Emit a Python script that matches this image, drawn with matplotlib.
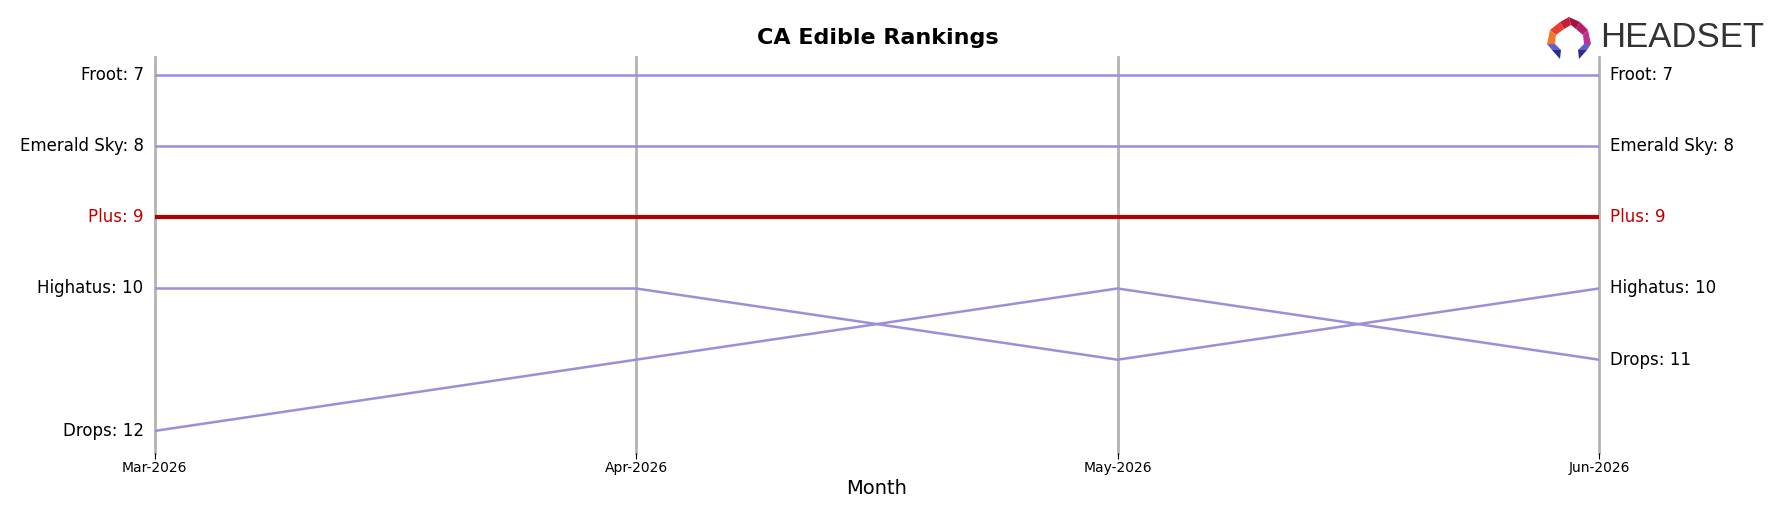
import matplotlib
matplotlib.use("Agg")
import matplotlib.pyplot as plt
from matplotlib.patches import Polygon

months = ["Mar-2026", "Apr-2026", "May-2026", "Jun-2026"]
brands = ["Froot", "Emerald Sky", "Plus", "Highatus", "Drops"]
froot = [7, 7, 7, 7]
emerald_sky = [8, 8, 8, 8]
plus = [9, 9, 9, 9]
highatus = [10, 10, 11, 10]
drops = [12, 11, 10, 11]
series = [froot, emerald_sky, plus, highatus, drops]
highlight = "Plus"

W, H = 1783, 507
fig = plt.figure(figsize=(W / 100, H / 100), dpi=100)
ax = fig.add_axes([154.6 / W, 1 - 453 / H, (1599 - 154.6) / W, (453 - 57) / H])

x = list(range(len(months)))
purple = "#9b8fd9"
red = "#b30000"
for name, vals in zip(brands, series):
    if name == highlight:
        ax.plot(x, vals, color=red, lw=3, zorder=3, solid_capstyle="butt")
        tc = "#c00000"
    else:
        ax.plot(x, vals, color=purple, lw=1.8, zorder=2, solid_capstyle="butt")
        tc = "black"
    ax.text(x[0] - 0.023, vals[0], f"{name}: {vals[0]}", ha="right", va="center",
            fontsize=12, color=tc)
    ax.text(x[-1] + 0.023, vals[-1], f"{name}: {vals[-1]}", ha="left", va="center",
            fontsize=12, color=tc)

for xi in x:
    ax.axvline(xi, color="#b3b3b3", lw=2, zorder=1, clip_on=False)

ax.set_xlim(x[0], x[-1])
ax.set_ylim(12.31, 6.75)
ax.set_xticks(x)
ax.set_xticklabels(months, fontsize=10)
ax.set_yticks([])
ax.tick_params(axis="x", length=4, width=0.8, pad=2)
for s in ax.spines.values():
    s.set_visible(False)
ax.set_xlabel("Month", fontsize=14, labelpad=3)

fig.text(0.4925, 1 - 37.5 / H, "CA Edible Rankings", ha="center", va="center",
         fontsize=16, fontweight="bold")

# logo
lax = fig.add_axes([1546 / W, 1 - 60 / H, 46 / W, 45 / H])
lax.set_xlim(0, 46)
lax.set_ylim(0, 45)
lax.axis("off")
polys = [
    ([(4, 30), (14, 38), (18, 31), (10, 25)], "#e8412c"),
    ([(14, 38), (23, 43), (25, 35), (18, 31)], "#c2213a"),
    ([(23, 43), (34, 38), (30, 31), (25, 35)], "#a3153d"),
    ([(34, 38), (42, 30), (37, 25), (30, 31)], "#b41e6b"),
    ([(4, 30), (10, 25), (9, 16), (1, 16)], "#f07a2a"),
    ([(42, 30), (37, 25), (38, 16), (45, 16)], "#c2308e"),
    ([(1, 16), (9, 16), (15, 10), (6, 10)], "#5e5fd0"),
    ([(45, 16), (38, 16), (32, 10), (41, 10)], "#5e5fd0"),
    ([(6, 10), (15, 10), (14, 1)], "#2b2f8c"),
    ([(41, 10), (32, 10), (33, 1)], "#2b2f8c"),
]
for pts, c in polys:
    lax.add_patch(Polygon(pts, closed=True, color=c, lw=0))

fig.text(1600 / W, 1 - 38 / H, "HEADSET", ha="left", va="center", fontsize=25,
         color="#333333", family="Liberation Sans")

fig.savefig("out.png", dpi=100)
